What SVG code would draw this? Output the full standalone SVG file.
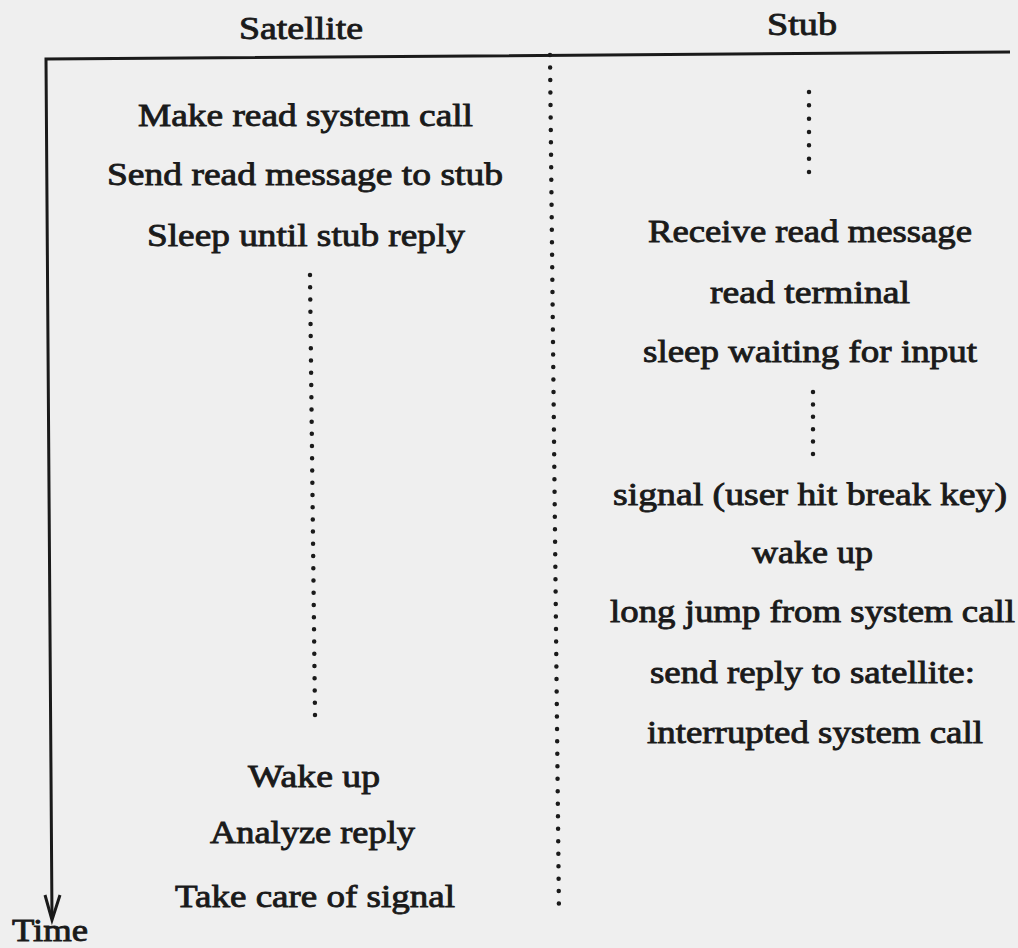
<svg xmlns="http://www.w3.org/2000/svg" width="1018" height="948" viewBox="0 0 1018 948">
  <style>
    .t { font-family: "Times New Roman", "Liberation Serif", Times, serif; font-size: 31px; fill: #1a1a1a; stroke: #1a1a1a; stroke-width: 0.85px; }
    .dots { stroke: #1a1a1a; stroke-width: 4.5; stroke-linecap: round; fill: none; }
    .axis { stroke: #1a1a1a; stroke-width: 3; fill: none; stroke-linejoin: miter; }
  </style>
  <rect x="0" y="0" width="1018" height="948" fill="#efefef"/>

  <g id="connectors">
    <path class="axis" d="M 1010 52 L 46 59 L 52 918"/>
    <path class="axis" d="M 45 895 L 52 920 L 60 895"/>
    <line class="dots" x1="550" y1="55" x2="559" y2="916" stroke-dasharray="0 12.48"/>
    <line class="dots" x1="310" y1="275" x2="315" y2="715" stroke-dasharray="0 12.22"/>
    <line class="dots" x1="809" y1="92" x2="809" y2="172" stroke-dasharray="0 13.33"/>
    <line class="dots" x1="813" y1="392" x2="813" y2="454" stroke-dasharray="0 12.4"/>
  </g>

  <g id="header-satellite"><text class="t" x="239" y="39" textLength="124" lengthAdjust="spacingAndGlyphs">Satellite</text></g>
  <g id="header-stub"><text class="t" x="767" y="35" textLength="70" lengthAdjust="spacingAndGlyphs">Stub</text></g>

  <g id="sat-make-read"><text class="t" x="138" y="126" textLength="335" lengthAdjust="spacingAndGlyphs">Make read system call</text></g>
  <g id="sat-send-read"><text class="t" x="107" y="185" textLength="396" lengthAdjust="spacingAndGlyphs">Send read message to stub</text></g>
  <g id="sat-sleep"><text class="t" x="147" y="246" textLength="318" lengthAdjust="spacingAndGlyphs">Sleep until stub reply</text></g>

  <g id="stub-receive"><text class="t" x="648" y="242" textLength="324" lengthAdjust="spacingAndGlyphs">Receive read message</text></g>
  <g id="stub-read-terminal"><text class="t" x="710" y="303" textLength="200" lengthAdjust="spacingAndGlyphs">read terminal</text></g>
  <g id="stub-sleep-waiting"><text class="t" x="643" y="362" textLength="334" lengthAdjust="spacingAndGlyphs">sleep waiting for input</text></g>
  <g id="stub-signal"><text class="t" x="613" y="505" textLength="394" lengthAdjust="spacingAndGlyphs">signal (user hit break key)</text></g>
  <g id="stub-wake-up"><text class="t" x="752" y="563" textLength="121" lengthAdjust="spacingAndGlyphs">wake up</text></g>
  <g id="stub-long-jump"><text class="t" x="610" y="622" textLength="405" lengthAdjust="spacingAndGlyphs">long jump from system call</text></g>
  <g id="stub-send-reply"><text class="t" x="650" y="683" textLength="325" lengthAdjust="spacingAndGlyphs">send reply to satellite:</text></g>
  <g id="stub-interrupted"><text class="t" x="647" y="743" textLength="336" lengthAdjust="spacingAndGlyphs">interrupted system call</text></g>

  <g id="sat-wake-up"><text class="t" x="248" y="787" textLength="132" lengthAdjust="spacingAndGlyphs">Wake up</text></g>
  <g id="sat-analyze"><text class="t" x="210" y="843" textLength="205" lengthAdjust="spacingAndGlyphs">Analyze reply</text></g>
  <g id="sat-take-care"><text class="t" x="175" y="907" textLength="280" lengthAdjust="spacingAndGlyphs">Take care of signal</text></g>

  <g id="time-label"><text class="t" x="12" y="941" textLength="76" lengthAdjust="spacingAndGlyphs">Time</text></g>
</svg>
